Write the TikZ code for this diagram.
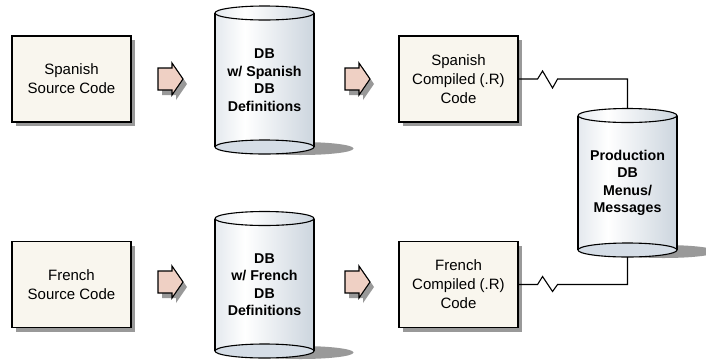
\documentclass[tikz,border=0pt]{standalone}
\usepackage{fontspec}
\setmainfont{Liberation Sans}
\definecolor{boxfill}{HTML}{F9F6EE}
\definecolor{arrowfill}{HTML}{EFD0C4}
\definecolor{shadowgray}{HTML}{999999}
\definecolor{cylblue}{HTML}{CCD5DE}
\definecolor{cylleft}{HTML}{E4E9EE}
\definecolor{cylbot}{HTML}{D5DDE6}
\pgfdeclarehorizontalshading{cylshade}{100bp}{color(0bp)=(cylleft); color(25bp)=(cylleft); color(40bp)=(white); color(75bp)=(cylblue); color(100bp)=(cylblue)}
\tikzset{
  codebox/.style={draw, fill=boxfill, line width=1.1pt, minimum width=119pt, minimum height=86pt,
    align=center, inner sep=0pt, font=\fontsize{15}{19}\selectfont},
  cyltext/.style={align=center, inner sep=0pt, outer sep=0pt, minimum width=99pt,
    font=\bfseries\fontsize{14.2}{17.5}\selectfont},
  cylline/.style={line width=1.1pt},
  conn/.style={line width=1.1pt},
  blockarr/.style={draw, fill=arrowfill, line width=1.1pt, line join=miter},
}
% #1 name, #2 cx, #3 cy, #4 text
\newcommand\codebox[4]{%
  \fill[shadowgray] ({#2-59.5+4},{#3-43+4}) rectangle ({#2+59.5+4},{#3+43+4});
  \node[codebox] (#1) at (#2,#3) {#4};
}
% #1 name, #2 cx, #3 top cy, #4 bottom cy, #5 node height, #6 text
\newcommand\dbcyl[6]{%
  \fill[shadowgray] ({#2+36},{#4+1.5}) ellipse [x radius=53pt, y radius=6.5pt];
  \shade[shading=cylshade] ({#2-49.5},#3) rectangle ({#2+49.5},#4);
  \draw[cylline] ({#2-49.5},#3) -- ({#2-49.5},#4) ({#2+49.5},#3) -- ({#2+49.5},#4);
  \filldraw[cylline, fill=cylbot] (#2,#4) ellipse [x radius=49.5pt, y radius=7pt];
  \shade[shading=cylshade] (#2,#3) ellipse [x radius=49.5pt, y radius=7pt];
  \draw[cylline] (#2,#3) ellipse [x radius=49.5pt, y radius=7pt];
  \node[cyltext, minimum height=#5pt] (#1) at (#2,{(#3+#4)/2}) {#6};
}
% #1 left x, #2 centre y
\newcommand\blockarrow[2]{%
  \fill[shadowgray] ({#1+4},{#2-11+5}) -- ({#1+14+4},{#2-11+5}) -- ({#1+14+4},{#2-16+5}) -- ({#1+25+4},{#2+5})
     -- ({#1+14+4},{#2+16+5}) -- ({#1+14+4},{#2+11+5}) -- ({#1+4},{#2+11+5}) -- cycle;
  \draw[blockarr] (#1,{#2-11}) -- ({#1+14},{#2-11}) -- ({#1+14},{#2-16}) -- ({#1+25},#2)
     -- ({#1+14},{#2+16}) -- ({#1+14},{#2+11}) -- (#1,{#2+11}) -- cycle;
}
\begin{document}
\begin{tikzpicture}[x=1pt,y=-1pt]
\useasboundingbox (0,0) rectangle (706,360);
\clip (0,0) rectangle (706,360);

% source boxes
\codebox{ss}{71.5}{79}{Spanish\\Source Code}
\codebox{fs}{71.5}{284.5}{French\\Source Code}

% arrows
\blockarrow{158}{79}
\blockarrow{158}{282}
\blockarrow{345}{79}
\blockarrow{345}{282}

% databases
\dbcyl{sdb}{264.5}{13}{147}{148}{DB\\w/ Spanish\\DB\\Definitions}
\dbcyl{fdb}{264.5}{218.5}{351}{146.5}{DB\\w/ French\\DB\\Definitions}
\dbcyl{prod}{627.5}{115.5}{250}{148.5}{Production\\DB\\Menus/\\Messages}

% compiled boxes
\codebox{sc}{458.5}{79}{Spanish\\Compiled (.R)\\Code}
\codebox{fc}{458.5}{284.5}{French\\Compiled (.R)\\Code}

% connectors
\draw[conn] (sc.east) -- ++(19,0) -- ++(5,-8) -- ++(10,17) -- ++(5,-9) -| (prod.north);
\draw[conn] (fc.east) -- ++(19,0) -- ++(5,-8) -- ++(10,15) -- ++(5,-7) -| (prod.south);
\end{tikzpicture}
\end{document}
